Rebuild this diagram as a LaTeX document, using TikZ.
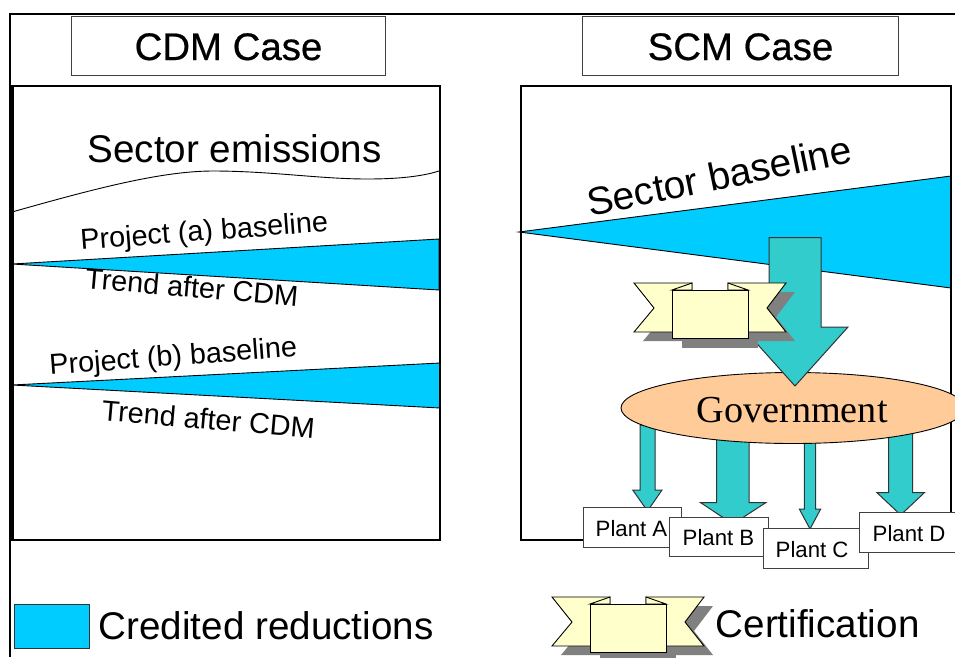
\documentclass[tikz,border=0pt]{standalone}
\usepackage{fontspec}
\usetikzlibrary{shapes.geometric}
\setmainfont{Liberation Sans}
\newfontfamily\serifgov{Liberation Serif}
\newfontfamily\titlefont[FakeBold=0.5]{Liberation Sans}
\definecolor{creditblue}{HTML}{00CCFF}
\definecolor{tealarrow}{HTML}{33CCCC}
\definecolor{govorange}{HTML}{FFCC99}
\definecolor{ribbon}{HTML}{FFFFCC}
\definecolor{shadowgray}{HTML}{808080}
\tikzset{
  txt/.style={inner sep=0pt,anchor=base west,text=black},
  big/.style={txt,font=\fontsize{38.6}{40}\selectfont},
  mid/.style={txt,font=\fontsize{28.8}{30}\selectfont},
  small/.style={txt,font=\fontsize{22.2}{24}\selectfont},
  titlebox/.style={draw=black!75,line width=1pt,fill=white,inner sep=0pt},
  frame/.style={draw=black,line width=2pt},
  wedge/.style={draw=black,line width=0.9pt,fill=creditblue},
  blockarrow/.style={draw=black!80,line width=1pt,fill=tealarrow},
  plantbox/.style={draw=black!75,line width=1pt,fill=white,inner sep=0pt,minimum height=39.5pt},
  ribbonpart/.style={draw=black,line width=0.9pt,fill=ribbon,line join=miter},
  pics/certribbon/.style={code={
    \fill[shadowgray] (9,-1) -- (67,-1) -- (67,48) -- (9,48) -- (29,24) -- cycle;
    \fill[shadowgray] (103,-1) -- (161,-1) -- (142,24) -- (161,48) -- (103,48) -- cycle;
    \fill[shadowgray] (48,7) rectangle (124,55);
    \path[ribbonpart] (0,-10) -- (58,-10) -- (58,39) -- (0,39) -- (20,15) -- cycle;
    \path[ribbonpart] (94,-10) -- (152,-10) -- (133,15) -- (152,39) -- (94,39) -- cycle;
    \path[ribbonpart] (38,-3) -- (58,-10) -- (58,-3) -- cycle;
    \path[ribbonpart] (114,-3) -- (94,-10) -- (94,-3) -- cycle;
    \path[ribbonpart] (38,-3) rectangle (114,45);
  }}
}
\newcommand{\blockdown}[7]{% shaft l,r; head l,r; top; shoulder; tip
  \path[blockarrow] (#1,#5) -- (#2,#5) -- (#2,#6) -- (#4,#6)
    -- ({(#1+#2)/2},#7) -- (#3,#6) -- (#1,#6) -- cycle;}
\begin{document}
\begin{tikzpicture}[x=1pt,y=-1pt]
\useasboundingbox (0,0) rectangle (955,657);
\fill[white] (0,0) rectangle (955,657);
\clip (0,0) rectangle (955,657);
% outer lines
\draw[line width=1.6pt] (955,14) -- (10,14) -- (10,657);
% titles
\node[titlebox,minimum width=314pt,minimum height=59pt] (cdmbox) at (228,45.5) {};
\node[titlebox,minimum width=316pt,minimum height=59pt] (scmbox) at (740,45.5) {};
\node[txt,anchor=base,font=\titlefont\fontsize{38.4}{40}\selectfont] (cdmtitle) at (228.5,60) {CDM Case};
\node[txt,anchor=base,font=\titlefont\fontsize{38.4}{40}\selectfont] (scmtitle) at (740.5,60) {SCM Case};
% CDM panel
\draw[line width=0.9pt] (12,212) .. controls (90,190) and (160,171) .. (213,171)
  .. controls (270,171) and (320,179) .. (367,179)
  .. controls (395,179) and (420,177) .. (439,171);
\path[wedge] (12,264) -- (439,239) -- (439,290) -- cycle;
\path[wedge] (12,385) -- (440,363) -- (440,408) -- cycle;
\draw[frame] (12,86) rectangle (439.5,540);
\draw[line width=3pt] (12,86) -- (12,540);
\node[big] (sectoremis) at (87.5,162.5) {Sector emissions};
\node[mid,rotate=4.3] (proja) at (81,250) {Project (a) baseline};
\node[mid,rotate=-5] (trenda) at (84.5,288) {Trend after CDM};
\node[mid,rotate=4.3] (projb) at (50,375) {Project (b) baseline};
\node[mid,rotate=-5] (trendb) at (101,420) {Trend after CDM};
% SCM panel
\path[wedge] (519,232) -- (951,176) -- (951,288) -- cycle;
\draw[frame] (521,86) rectangle (951,540);
\node[txt,font=\fontsize{39}{41}\selectfont,rotate=11.6] (sectorbase) at (590,216.5) {Sector baseline};
% plant arrows, under the ellipse and the plant boxes
\blockdown{640}{655}{632.7}{662}{425}{490}{511}
\blockdown{716.7}{749}{700.7}{765.7}{430}{502.7}{524}
\blockdown{804.3}{815.7}{799.3}{820.7}{430}{509}{529}
\blockdown{888.7}{912.7}{877}{924.3}{425}{492.7}{515}
% government
\node[draw=black,line width=0.9pt,fill=govorange,ellipse,minimum width=344pt,minimum height=71pt,inner sep=0pt] (gov) at (793,408) {};
\node[txt,font=\serifgov\fontsize{38.2}{40}\selectfont] (govtext) at (696.5,422) {Government};
\blockdown{769}{821}{742}{848}{237.5}{327}{386}
\pic at (634,293) {certribbon};
% plants
\node[plantbox,minimum width=98.5pt] (planta) at (632.5,527.5) {};
\node[small] (labela) at (595.5,536) {Plant A};
\node[plantbox,minimum width=98.5pt] (plantb) at (719,537) {};
\node[small] (labelb) at (682.5,545.5) {Plant B};
\node[plantbox,minimum width=105pt] (plantc) at (815.5,548.5) {};
\node[small] (labelc) at (775.5,557.2) {Plant C};
\node[plantbox,minimum width=100pt] (plantd) at (909,532.5) {};
\node[small] (labeld) at (872.5,541.2) {Plant D};
% legend
\draw[draw=black!80,line width=1pt,fill=creditblue] (14,604) rectangle (89,648);
\node[big] (credited) at (98.5,639) {Credited reductions};
\pic at (552,607) {certribbon};
\node[big] (certif) at (715.5,637) {Certification};
\end{tikzpicture}
\end{document}
